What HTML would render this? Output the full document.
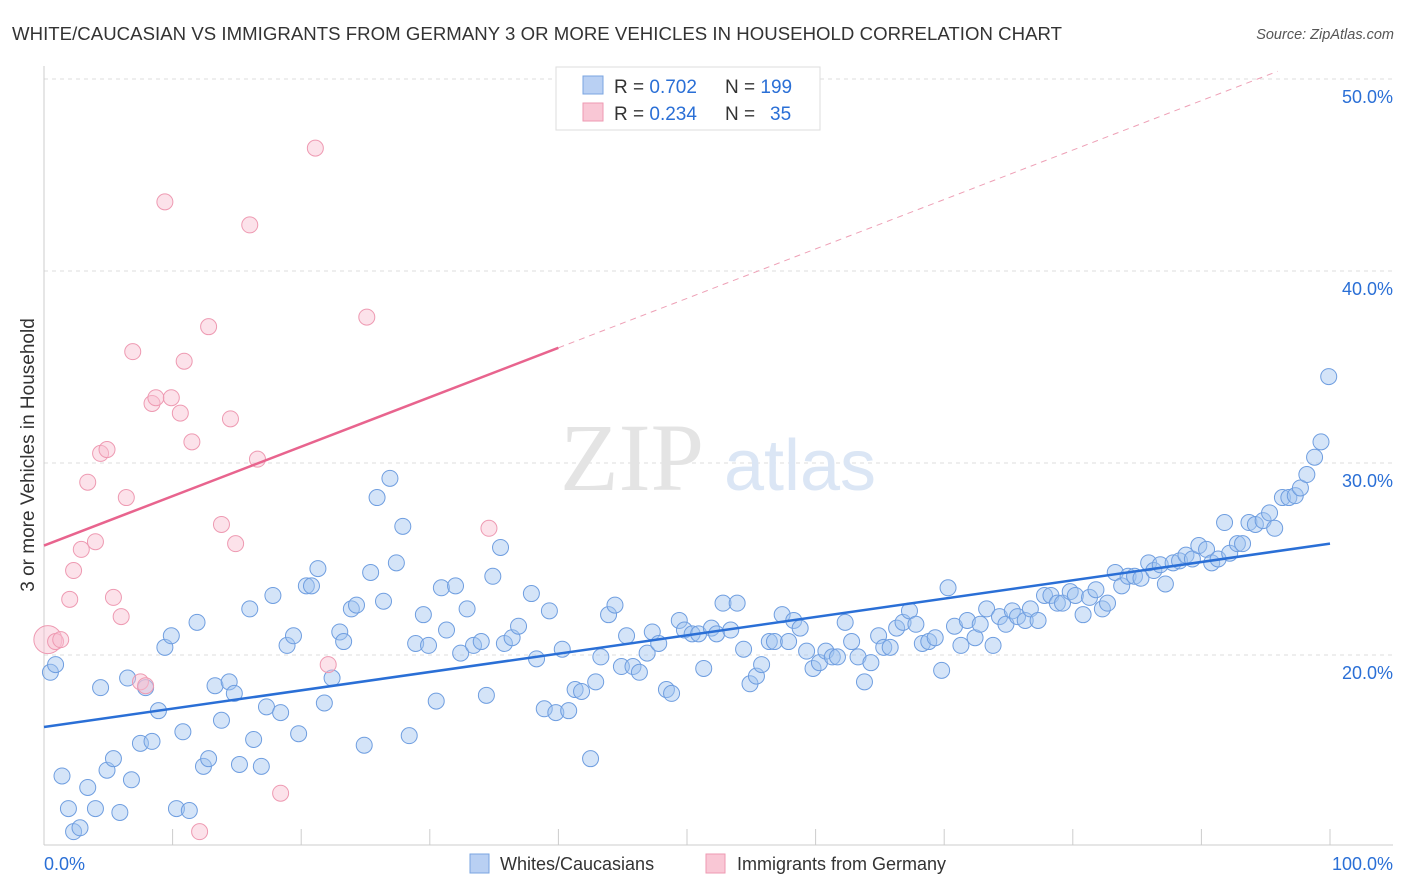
<!DOCTYPE html>
<html><head><meta charset="utf-8"><style>
body{margin:0;background:#fff;font-family:"Liberation Sans",sans-serif;}
svg{display:block}
</style></head><body>
<svg id="chart" width="1406" height="892">
<text x="12" y="40" font-size="18.6" fill="#333" textLength="1050">WHITE/CAUCASIAN VS IMMIGRANTS FROM GERMANY 3 OR MORE VEHICLES IN HOUSEHOLD CORRELATION CHART</text>
<text x="1394" y="39" font-size="14.5" fill="#555" text-anchor="end" font-style="italic">Source: ZipAtlas.com</text>
<g id="grid"></g>
<text x="632" y="490" font-size="96" fill="#e4e4e4" font-family="Liberation Serif,serif" text-anchor="middle">ZIP</text>
<text x="800" y="490" font-size="72" fill="#dbe6f5" text-anchor="middle">atlas</text>
<g id="marks"></g>
<text x="34" y="455" font-size="19" fill="#333" text-anchor="middle" transform="rotate(-90 34 455)">3 or more Vehicles in Household</text>
<g>
<rect x="556" y="67" width="264" height="63" fill="#fff" stroke="#ddd"/>
<rect x="583" y="76" width="20" height="18" fill="#b9d0f3" stroke="#7aa4e0"/>
<rect x="583" y="103" width="20" height="18" fill="#f9c7d5" stroke="#ee9ab2"/>
<text x="614" y="93" font-size="19" fill="#333">R = <tspan fill="#2a6fd6">0.702</tspan></text>
<text x="725" y="93" font-size="19" fill="#333">N = <tspan fill="#2a6fd6">199</tspan></text>
<text x="614" y="120" font-size="19" fill="#333">R = <tspan fill="#2a6fd6">0.234</tspan></text>
<text x="725" y="120" font-size="19" fill="#333">N = </text>
<text x="770" y="120" font-size="19" fill="#2a6fd6">35</text>
</g>
<g>
<rect x="470" y="854" width="19" height="19" fill="#b9d0f3" stroke="#7aa4e0"/>
<text x="500" y="870" font-size="18" fill="#333">Whites/Caucasians</text>
<rect x="706" y="854" width="19" height="19" fill="#f9c7d5" stroke="#ee9ab2"/>
<text x="737" y="870" font-size="18" fill="#333">Immigrants from Germany</text>
</g>
</svg>
<script>
const yTicks=[20,30,40,50];
const xTickLabels=["0.0%","100.0%"];
const blueX=[0.5,0.9,1.4,1.9,2.3,2.8,3.4,4.0,4.4,4.9,5.4,5.9,6.5,6.8,7.5,7.9,8.4,8.9,9.4,9.9,10.3,10.8,11.3,11.9,12.4,12.8,13.3,13.8,14.4,14.8,15.2,16.0,16.3,16.9,17.3,17.8,18.4,18.9,19.4,19.8,20.4,20.8,21.3,21.8,22.4,23.0,23.3,23.9,24.3,24.9,25.4,25.9,26.4,26.9,27.4,27.9,28.4,28.9,29.5,29.9,30.5,30.9,31.3,32.0,32.4,32.9,33.4,34.0,34.4,34.9,35.5,35.8,36.4,36.9,37.9,38.3,38.9,39.3,39.8,40.3,40.8,41.3,41.8,42.5,42.9,43.3,43.9,44.4,44.9,45.3,45.8,46.3,46.9,47.3,47.8,48.4,48.8,49.4,49.8,50.4,50.9,51.3,51.9,52.3,52.8,53.4,53.9,54.4,54.9,55.4,55.8,56.4,56.8,57.4,57.9,58.3,58.8,59.3,59.8,60.3,60.8,61.3,61.7,62.3,62.8,63.3,63.8,64.3,64.9,65.3,65.8,66.3,66.8,67.3,67.8,68.3,68.8,69.3,69.8,70.3,70.8,71.3,71.8,72.4,72.8,73.3,73.8,74.3,74.8,75.3,75.7,76.3,76.7,77.3,77.8,78.3,78.8,79.2,79.8,80.2,80.8,81.3,81.8,82.3,82.7,83.3,83.8,84.3,84.8,85.3,85.9,86.3,86.8,87.2,87.8,88.3,88.8,89.3,89.8,90.4,90.8,91.3,91.8,92.2,92.8,93.2,93.7,94.2,94.8,95.3,95.7,96.3,96.8,97.3,97.7,98.2,98.8,99.3,99.9];
const blueY=[19.1,19.5,13.7,12.0,10.8,11.0,13.1,12.0,18.3,14.0,14.6,11.8,18.8,13.5,15.4,18.3,15.5,17.1,20.4,21.0,12.0,16.0,11.9,21.7,14.2,14.6,18.4,16.6,18.6,18.0,14.3,22.4,15.6,14.2,17.3,23.1,17.0,20.5,21.0,15.9,23.6,23.6,24.5,17.5,18.8,21.2,20.7,22.4,22.6,15.3,24.3,28.2,22.8,29.2,24.8,26.7,15.8,20.6,22.1,20.5,17.6,23.5,21.3,23.6,20.1,22.4,20.5,20.7,17.9,24.1,25.6,20.6,20.9,21.5,23.2,19.8,17.2,22.3,17.0,20.3,17.1,18.2,18.1,14.6,18.6,19.9,22.1,22.6,19.4,21.0,19.4,19.1,20.1,21.2,20.6,18.2,18.0,21.8,21.3,21.1,21.1,19.3,21.4,21.1,22.7,21.3,22.7,20.3,18.5,18.9,19.5,20.7,20.7,22.1,20.7,21.8,21.4,20.2,19.3,19.6,20.2,19.9,19.9,21.7,20.7,19.9,18.6,19.6,21.0,20.4,20.4,21.4,21.7,22.3,21.6,20.6,20.7,20.9,19.2,23.5,21.5,20.5,21.8,20.9,21.6,22.4,20.5,22.0,21.6,22.3,22.0,21.8,22.4,21.8,23.1,23.1,22.7,22.7,23.3,23.1,22.1,23.0,23.4,22.4,22.7,24.3,23.6,24.1,24.1,24.0,24.8,24.4,24.7,23.7,24.8,24.9,25.2,25.0,25.7,25.5,24.8,25.0,26.9,25.3,25.8,25.8,26.9,26.8,27.0,27.4,26.6,28.2,28.2,28.3,28.7,29.4,30.3,31.1,34.5];
const pinkX=[0.3,0.9,1.3,2.0,2.3,2.9,3.4,4.0,4.4,4.9,5.4,6.0,6.4,6.9,7.5,7.9,8.4,8.7,9.4,9.9,10.6,10.9,11.5,12.1,12.8,13.8,14.5,14.9,16.0,16.6,18.4,21.1,22.1,25.1,34.6];
const pinkY=[20.8,20.7,20.8,22.9,24.4,25.5,29.0,25.9,30.5,30.7,23.0,22.0,28.2,35.8,18.6,18.4,33.1,33.4,43.6,33.4,32.6,35.3,31.1,10.8,37.1,26.8,32.3,25.8,42.4,30.2,12.8,46.4,19.5,37.6,26.6];
const blueTrend=[16.25,25.8];
const pinkTrend=[25.7,36.0];
const NS="http://www.w3.org/2000/svg";
const X0=44,X1=1330;
function sx(v){return X0+(X1-X0)*v/100;}
function sy(v){return 655-(v-20)*19.2;}
function mk(tag,at,parent){const e=document.createElementNS(NS,tag);for(const k in at)e.setAttribute(k,at[k]);parent.appendChild(e);return e;}
const grid=document.getElementById('grid'),marks=document.getElementById('marks');
yTicks.forEach(t=>{
 const l=mk('line',{x1:44,x2:1393,y1:sy(t),y2:sy(t),stroke:'#ddd','stroke-dasharray':'4,4'},grid);
 
 
 const tx=mk('text',{x:1393,y:sy(t)+24,'font-size':18,fill:'#2a6fd6','text-anchor':'end'},grid);
 tx.textContent=t.toFixed(1)+'%';
 
 
});
const ya=mk('line',{x1:44,x2:44,y1:66,y2:845,stroke:'#ccc'},grid);


const xa=mk('line',{x1:44,x2:1393,y1:845,y2:845,stroke:'#ccc'},grid);


for(let i=0;i<=10;i++){
 const t=mk('line',{x1:sx(i*10),x2:sx(i*10),y1:829,y2:845,stroke:'#ccc'},grid);
 
 
}
xTickLabels.forEach((s,i)=>{
 const t=mk('text',{x:i?1393:44,y:870,'font-size':18,fill:'#2a6fd6','text-anchor':i?'end':'start'},grid);
 t.textContent=s;
 
 
});
blueX.forEach((x,i)=>{
 const c=mk('circle',{cx:sx(x),cy:sy(blueY[i]),r:8,fill:'rgba(160,195,240,0.45)',stroke:'#6f9ee0','stroke-width':1},marks);
 
 
});
pinkX.forEach((x,i)=>{
 const c=mk('circle',{cx:sx(x),cy:sy(pinkY[i]),r:i===0?14:8,fill:'rgba(248,190,208,0.45)',stroke:'#ee9ab2','stroke-width':1},marks);
 
 
});
const bl=mk('line',{x1:sx(0),y1:sy(blueTrend[0]),x2:sx(100),y2:sy(blueTrend[1]),stroke:'#2a6fd6','stroke-width':2.5},marks);


const pk=(pinkTrend[1]-pinkTrend[0])/40;
const pl=mk('line',{x1:sx(0),y1:sy(pinkTrend[0]),x2:sx(40),y2:sy(pinkTrend[1]),stroke:'#e8648e','stroke-width':2.5},marks);


const xe=(50.4-pinkTrend[0])/pk;
const pd=mk('line',{x1:sx(40),y1:sy(pinkTrend[1]),x2:sx(xe),y2:sy(50.4),stroke:'#eea0b6','stroke-width':1,'stroke-dasharray':'6,5'},marks);


</script>
</body></html>
